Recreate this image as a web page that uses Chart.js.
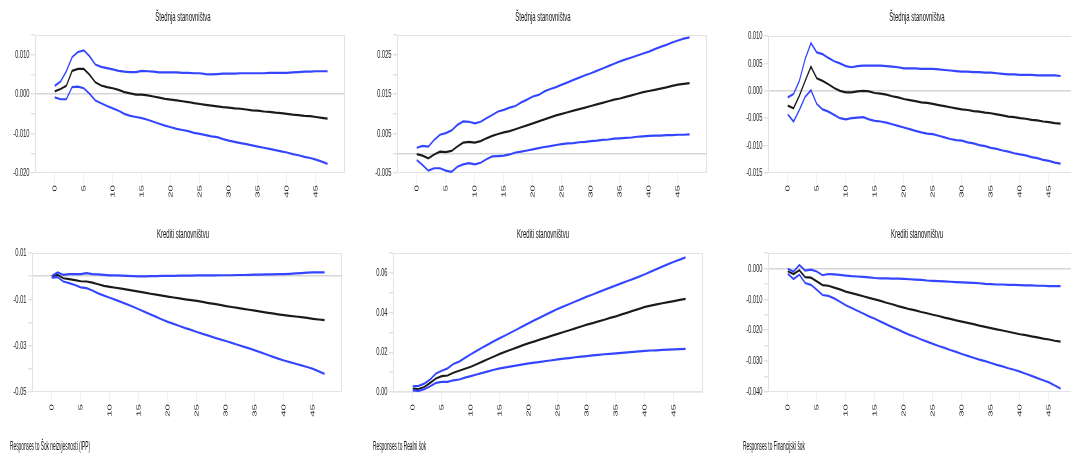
<!DOCTYPE html>
<html>
<head>
<meta charset="utf-8">
<script src="https://cdn.jsdelivr.net/npm/chart.js@4.4.1/dist/chart.umd.min.js"></script>
<style>
html, body { margin: 0; padding: 0; background: #fff; width: 1071px; height: 463px; overflow: hidden; }
/* the source picture is squeezed horizontally, so everything is drawn twice as wide and compressed */
#stage { position: absolute; left: 0; top: 0; width: 2142px; height: 463px; transform: scaleX(0.5); transform-origin: 0 0;
         font-family: "Liberation Sans", Arial, sans-serif; color: #111; }
.box { position: absolute; width: 696px; height: 178px; }
.txt { position: absolute; font-size: 12px; line-height: 14px; white-space: nowrap; }
.ttl { transform: translateX(-50%); }
.foot { transform: scaleX(0.8); transform-origin: 0 0; }
</style>
</head>
<body>
<div id="stage"></div>
<script>
// horizon (periods after the shock)
const horizon = [0,1,2,3,4,5,6,7,8,9,10,11,12,13,14,15,16,17,18,19,20,21,22,23,
                 24,25,26,27,28,29,30,31,32,33,34,35,36,37,38,39,40,41,42,43,44,45,46,47];
const xTicks = [0, 5, 10, 15, 20, 25, 30, 35, 40, 45];

const rowTitles = ['Štednja stanovništva', 'Krediti stanovništvu'];
const footers = ['Responses to Šok neizvjesnosti (IPP)', 'Responses to Realni šok', 'Responses to Financijski šok'];

// Štednja – šok neizvjesnosti
const sav1Up = [0.0021,0.0032,0.0058,0.0094,0.0107,0.0111,0.0096,0.0075,0.0069,0.0066,
  0.0063,0.0059,0.0057,0.0056,0.0056,0.0059,0.0058,0.0057,0.0055,0.0055,
  0.0055,0.0055,0.0054,0.0054,0.0053,0.0053,0.0051,0.0050,0.0051,0.0052,
  0.0052,0.0052,0.0053,0.0053,0.0053,0.0053,0.0053,0.0054,0.0054,0.0054,
  0.0054,0.0055,0.0056,0.0057,0.0057,0.0058,0.0058,0.0058];
const sav1Mid = [0.0007,0.0013,0.0021,0.0059,0.0064,0.0064,0.0049,0.0030,0.0022,0.0018,
  0.0015,0.0011,0.0005,0.0002,-0.0001,-0.0001,-0.0003,-0.0006,-0.0009,-0.0012,
  -0.0014,-0.0016,-0.0018,-0.0020,-0.0023,-0.0025,-0.0027,-0.0029,-0.0031,-0.0033,
  -0.0034,-0.0036,-0.0037,-0.0039,-0.0041,-0.0042,-0.0044,-0.0045,-0.0047,-0.0048,
  -0.0050,-0.0052,-0.0053,-0.0055,-0.0056,-0.0058,-0.0060,-0.0062];
const sav1Lo = [-0.0008,-0.0013,-0.0013,0.0018,0.0019,0.0015,0.0001,-0.0016,-0.0023,-0.0030,
  -0.0036,-0.0042,-0.0050,-0.0055,-0.0058,-0.0061,-0.0065,-0.0070,-0.0075,-0.0080,
  -0.0084,-0.0088,-0.0091,-0.0094,-0.0098,-0.0101,-0.0104,-0.0107,-0.0109,-0.0114,
  -0.0118,-0.0121,-0.0124,-0.0127,-0.0130,-0.0133,-0.0136,-0.0139,-0.0142,-0.0145,
  -0.0148,-0.0152,-0.0155,-0.0159,-0.0162,-0.0166,-0.0171,-0.0177];

// Štednja – realni šok
const sav2Up = [0.0014,0.0019,0.0017,0.0034,0.0047,0.0051,0.0058,0.0072,0.0081,0.0080,
  0.0076,0.0080,0.0089,0.0097,0.0106,0.0110,0.0116,0.0120,0.0129,0.0136,
  0.0144,0.0148,0.0157,0.0163,0.0168,0.0174,0.0180,0.0186,0.0192,0.0198,
  0.0203,0.0209,0.0215,0.0221,0.0227,0.0233,0.0238,0.0243,0.0248,0.0253,
  0.0258,0.0264,0.0270,0.0275,0.0281,0.0286,0.0291,0.0294];
const sav2Mid = [-0.0002,-0.0006,-0.0013,-0.0003,0.0004,0.0003,0.0006,0.0017,0.0027,0.0029,
  0.0027,0.0031,0.0038,0.0044,0.0049,0.0053,0.0056,0.0061,0.0066,0.0071,
  0.0076,0.0081,0.0086,0.0091,0.0096,0.0100,0.0104,0.0108,0.0112,0.0116,
  0.0120,0.0124,0.0128,0.0132,0.0136,0.0139,0.0143,0.0147,0.0151,0.0155,
  0.0158,0.0161,0.0164,0.0167,0.0171,0.0174,0.0176,0.0178];
const sav2Lo = [-0.0017,-0.0030,-0.0044,-0.0038,-0.0038,-0.0044,-0.0047,-0.0034,-0.0028,-0.0025,
  -0.0028,-0.0024,-0.0015,-0.0008,-0.0007,-0.0006,-0.0003,0.0002,0.0004,0.0007,
  0.0010,0.0013,0.0016,0.0018,0.0021,0.0023,0.0025,0.0026,0.0028,0.0029,
  0.0031,0.0032,0.0034,0.0035,0.0037,0.0038,0.0039,0.0040,0.0042,0.0043,
  0.0044,0.0045,0.0045,0.0046,0.0046,0.0047,0.0047,0.0048];

// Štednja – financijski šok
const sav3Up = [-0.0012,-0.0006,0.0018,0.0058,0.0087,0.0070,0.0067,0.0060,0.0054,0.0050,
  0.0045,0.0043,0.0045,0.0046,0.0046,0.0046,0.0046,0.0045,0.0044,0.0043,
  0.0041,0.0041,0.0041,0.0040,0.0040,0.0040,0.0039,0.0038,0.0037,0.0036,
  0.0035,0.0035,0.0034,0.0034,0.0033,0.0033,0.0032,0.0031,0.0030,0.0030,
  0.0029,0.0029,0.0029,0.0028,0.0028,0.0028,0.0028,0.0027];
const sav3Mid = [-0.0027,-0.0032,-0.0009,0.0018,0.0044,0.0023,0.0018,0.0012,0.0005,0.0000,
  -0.0003,-0.0003,-0.0001,0.0000,-0.0001,-0.0004,-0.0005,-0.0007,-0.0010,-0.0012,
  -0.0015,-0.0017,-0.0019,-0.0021,-0.0022,-0.0024,-0.0026,-0.0028,-0.0030,-0.0032,
  -0.0034,-0.0035,-0.0037,-0.0038,-0.0040,-0.0041,-0.0043,-0.0045,-0.0047,-0.0048,
  -0.0050,-0.0051,-0.0053,-0.0054,-0.0056,-0.0057,-0.0059,-0.0060];
const sav3Lo = [-0.0043,-0.0056,-0.0035,-0.0011,0.0001,-0.0024,-0.0034,-0.0038,-0.0044,-0.0050,
  -0.0052,-0.0050,-0.0049,-0.0048,-0.0052,-0.0055,-0.0056,-0.0058,-0.0061,-0.0064,
  -0.0067,-0.0070,-0.0073,-0.0076,-0.0078,-0.0079,-0.0082,-0.0085,-0.0088,-0.0090,
  -0.0091,-0.0094,-0.0096,-0.0099,-0.0101,-0.0104,-0.0106,-0.0109,-0.0111,-0.0114,
  -0.0116,-0.0118,-0.0121,-0.0123,-0.0126,-0.0128,-0.0131,-0.0133];

// Krediti – šok neizvjesnosti
const cred1Up = [0.0001,0.0016,0.0006,0.0009,0.0009,0.0009,0.0013,0.0009,0.0008,0.0006,
  0.0003,0.0003,0.0002,0.0001,0.0000,-0.0001,-0.0001,0.0000,0.0000,0.0001,
  0.0001,0.0001,0.0002,0.0002,0.0002,0.0003,0.0003,0.0003,0.0003,0.0004,
  0.0004,0.0004,0.0005,0.0005,0.0006,0.0007,0.0007,0.0008,0.0008,0.0009,
  0.0009,0.0010,0.0012,0.0013,0.0015,0.0016,0.0016,0.0016];
const cred1Mid = [-0.0001,0.0006,-0.0009,-0.0013,-0.0017,-0.0022,-0.0023,-0.0028,-0.0035,-0.0042,
  -0.0046,-0.0050,-0.0054,-0.0058,-0.0062,-0.0067,-0.0071,-0.0076,-0.0080,-0.0084,
  -0.0088,-0.0092,-0.0096,-0.0100,-0.0103,-0.0107,-0.0111,-0.0116,-0.0120,-0.0124,
  -0.0129,-0.0133,-0.0137,-0.0141,-0.0145,-0.0149,-0.0153,-0.0157,-0.0161,-0.0165,
  -0.0168,-0.0171,-0.0174,-0.0177,-0.0180,-0.0184,-0.0187,-0.0190];
const cred1Lo = [-0.0006,-0.0004,-0.0023,-0.0030,-0.0038,-0.0048,-0.0052,-0.0062,-0.0074,-0.0084,
  -0.0093,-0.0102,-0.0112,-0.0122,-0.0132,-0.0143,-0.0154,-0.0165,-0.0176,-0.0187,
  -0.0197,-0.0206,-0.0215,-0.0224,-0.0232,-0.0241,-0.0249,-0.0257,-0.0265,-0.0273,
  -0.0280,-0.0288,-0.0296,-0.0304,-0.0312,-0.0320,-0.0329,-0.0338,-0.0347,-0.0356,
  -0.0364,-0.0371,-0.0378,-0.0385,-0.0392,-0.0400,-0.0411,-0.0422];

// Krediti – realni šok
const cred2Up = [0.0029,0.0031,0.0042,0.0063,0.0093,0.0107,0.0119,0.0141,0.0153,0.0172,
  0.0190,0.0207,0.0224,0.0240,0.0256,0.0271,0.0286,0.0301,0.0316,0.0332,
  0.0347,0.0362,0.0376,0.0391,0.0405,0.0419,0.0431,0.0443,0.0456,0.0468,
  0.0480,0.0491,0.0503,0.0514,0.0526,0.0537,0.0548,0.0559,0.0570,0.0581,
  0.0593,0.0606,0.0619,0.0631,0.0644,0.0656,0.0667,0.0678];
const cred2Mid = [0.0017,0.0015,0.0025,0.0046,0.0068,0.0080,0.0083,0.0097,0.0107,0.0117,
  0.0127,0.0140,0.0153,0.0166,0.0179,0.0192,0.0203,0.0214,0.0225,0.0236,
  0.0246,0.0255,0.0265,0.0274,0.0284,0.0293,0.0302,0.0311,0.0320,0.0330,
  0.0339,0.0347,0.0356,0.0364,0.0373,0.0381,0.0391,0.0400,0.0410,0.0419,
  0.0429,0.0435,0.0441,0.0447,0.0453,0.0458,0.0464,0.0469];
const cred2Lo = [0.0008,0.0005,0.0014,0.0029,0.0046,0.0051,0.0051,0.0059,0.0063,0.0072,
  0.0080,0.0088,0.0096,0.0104,0.0112,0.0119,0.0124,0.0129,0.0134,0.0139,
  0.0144,0.0148,0.0152,0.0156,0.0160,0.0164,0.0168,0.0171,0.0175,0.0178,
  0.0181,0.0184,0.0187,0.0190,0.0192,0.0195,0.0197,0.0200,0.0202,0.0205,
  0.0207,0.0209,0.0210,0.0212,0.0213,0.0215,0.0216,0.0217];

// Krediti – financijski šok
const cred3Up = [-0.0001,-0.0010,0.0011,-0.0007,-0.0004,-0.0010,-0.0022,-0.0018,-0.0019,-0.0021,
  -0.0023,-0.0025,-0.0026,-0.0027,-0.0029,-0.0031,-0.0032,-0.0032,-0.0033,-0.0033,
  -0.0034,-0.0035,-0.0036,-0.0037,-0.0039,-0.0040,-0.0041,-0.0042,-0.0043,-0.0044,
  -0.0045,-0.0046,-0.0047,-0.0048,-0.0050,-0.0051,-0.0052,-0.0052,-0.0053,-0.0053,
  -0.0054,-0.0055,-0.0055,-0.0056,-0.0056,-0.0057,-0.0057,-0.0057];
const cred3Mid = [-0.0009,-0.0018,-0.0006,-0.0028,-0.0030,-0.0042,-0.0054,-0.0056,-0.0062,-0.0068,
  -0.0075,-0.0080,-0.0085,-0.0090,-0.0095,-0.0100,-0.0105,-0.0111,-0.0116,-0.0122,
  -0.0127,-0.0132,-0.0136,-0.0141,-0.0145,-0.0150,-0.0154,-0.0159,-0.0163,-0.0168,
  -0.0172,-0.0176,-0.0180,-0.0185,-0.0189,-0.0193,-0.0197,-0.0201,-0.0205,-0.0209,
  -0.0213,-0.0216,-0.0220,-0.0223,-0.0227,-0.0230,-0.0234,-0.0237];
const cred3Lo = [-0.0017,-0.0034,-0.0020,-0.0047,-0.0053,-0.0069,-0.0086,-0.0089,-0.0097,-0.0108,
  -0.0119,-0.0128,-0.0137,-0.0146,-0.0155,-0.0163,-0.0172,-0.0181,-0.0190,-0.0198,
  -0.0207,-0.0215,-0.0222,-0.0230,-0.0237,-0.0244,-0.0251,-0.0257,-0.0264,-0.0270,
  -0.0277,-0.0283,-0.0289,-0.0295,-0.0300,-0.0306,-0.0312,-0.0317,-0.0323,-0.0328,
  -0.0334,-0.0341,-0.0348,-0.0355,-0.0362,-0.0369,-0.0379,-0.0389];

// y axis settings per panel: min, max, step, label every n-th tick (from the bottom), decimals
const panels = [
  { up: sav1Up, mid: sav1Mid, lo: sav1Lo, left: 35, top: 35, h: 138, min: -0.020, max: 0.015, step: 0.005, every: 2, dec: 3 },
  { up: sav2Up, mid: sav2Mid, lo: sav2Lo, left: 397, top: 35, h: 138, min: -0.005, max: 0.030, step: 0.005, every: 2, dec: 3 },
  { up: sav3Up, mid: sav3Mid, lo: sav3Lo, left: 768, top: 36, h: 137, min: -0.015, max: 0.010, step: 0.005, every: 1, dec: 3 },
  { up: cred1Up, mid: cred1Mid, lo: cred1Lo, left: 32, top: 253, h: 139, min: -0.05, max: 0.01, step: 0.01, every: 2, dec: 2 },
  { up: cred2Up, mid: cred2Mid, lo: cred2Lo, left: 393, top: 253, h: 139, min: 0, max: 0.07, step: 0.01, every: 2, dec: 2 },
  { up: cred3Up, mid: cred3Mid, lo: cred3Lo, left: 768, top: 253, h: 139, min: -0.040, max: 0.005, step: 0.005, every: 2, dec: 3 }
];
const titleCenters = [183, 543, 917];
const footerLefts = [10, 373, 743];

const BLUE = '#3345ff';
const BLACK = '#1a1a1a';
const FRAME = '#e3e3e3';
const Y_AXIS_W = 66;   // pre-squeeze pixels
const PAD_TOP = 10;

const stage = document.getElementById('stage');

function addText(str, x, y, cls) {
  const d = document.createElement('div');
  d.className = 'txt ' + (cls || '');
  d.style.left = x + 'px';
  d.style.top = y + 'px';
  d.textContent = str;
  stage.appendChild(d);
}

// light frame round the plot area
const framePlugin = {
  id: 'frame',
  beforeDatasetsDraw(chart) {
    const a = chart.chartArea, ctx = chart.ctx;
    ctx.save();
    ctx.strokeStyle = FRAME;
    ctx.lineWidth = 1;
    ctx.beginPath();
    ctx.moveTo(a.left, a.top + 0.5); ctx.lineTo(a.right, a.top + 0.5);
    ctx.moveTo(a.left, a.bottom - 0.5); ctx.lineTo(a.right, a.bottom - 0.5);
    ctx.stroke();
    ctx.lineWidth = 2;
    ctx.beginPath();
    ctx.moveTo(a.left + 1, a.top); ctx.lineTo(a.left + 1, a.bottom);
    ctx.moveTo(a.right - 1, a.top); ctx.lineTo(a.right - 1, a.bottom);
    ctx.stroke();
    ctx.restore();
  }
};

function series(values, color) {
  return {
    data: horizon.map((h, i) => ({ x: h, y: values[i] })),
    borderColor: color,
    borderWidth: 2.2,
    pointRadius: 0,
    tension: 0,
    fill: false
  };
}

panels.forEach((p, k) => {
  const box = document.createElement('div');
  box.className = 'box';
  box.style.left = (p.left * 2 - Y_AXIS_W) + 'px';
  box.style.top = (p.top - PAD_TOP) + 'px';
  box.style.height = (PAD_TOP + p.h + 30) + 'px';
  const canvas = document.createElement('canvas');
  box.appendChild(canvas);
  stage.appendChild(box);

  new Chart(canvas, {
    type: 'line',
    data: { datasets: [series(p.up, BLUE), series(p.lo, BLUE), series(p.mid, BLACK)] },
    options: {
      responsive: true,
      maintainAspectRatio: false,
      animation: false,
      layout: { padding: { top: PAD_TOP, right: 10, left: 0, bottom: 0 } },
      plugins: { legend: { display: false }, tooltip: { enabled: false } },
      scales: {
        x: {
          type: 'linear',
          min: -3.4,
          max: 50,
          afterBuildTicks(scale) { scale.ticks = xTicks.map(v => ({ value: v })); },
          afterFit(scale) { scale.height = 30; },
          border: { display: false },
          grid: { drawOnChartArea: false, drawTicks: true, tickLength: 10, tickColor: FRAME },
          ticks: {
            autoSkip: false, minRotation: 90, maxRotation: 90, padding: 2,
            color: '#222', font: { family: '"Liberation Sans", Arial, sans-serif', size: 11.5 }
          }
        },
        y: {
          min: p.min,
          max: p.max,
          afterFit(scale) { scale.width = Y_AXIS_W; },
          border: { display: false },
          grid: {
            color: ctx => (ctx.tick && Math.abs(ctx.tick.value) < 1e-9) ? '#d6d6d6' : 'rgba(0,0,0,0)',
            lineWidth: 1.5,
            drawTicks: true, tickLength: 8, tickColor: FRAME
          },
          ticks: {
            stepSize: p.step, autoSkip: false, padding: 3,
            color: '#222', font: { family: '"Liberation Sans", Arial, sans-serif', size: 11.5 },
            callback: (v, i) => (i % p.every === 0 ? Number(v).toFixed(p.dec) : '')
          }
        }
      }
    },
    plugins: [framePlugin]
  });
});

titleCenters.forEach((c, j) => {
  addText(rowTitles[0], c * 2, 10, 'ttl');
  addText(rowTitles[1], c * 2, 227, 'ttl');
  addText(footers[j], footerLefts[j] * 2, 439, 'foot');
});
</script>
</body>
</html>
